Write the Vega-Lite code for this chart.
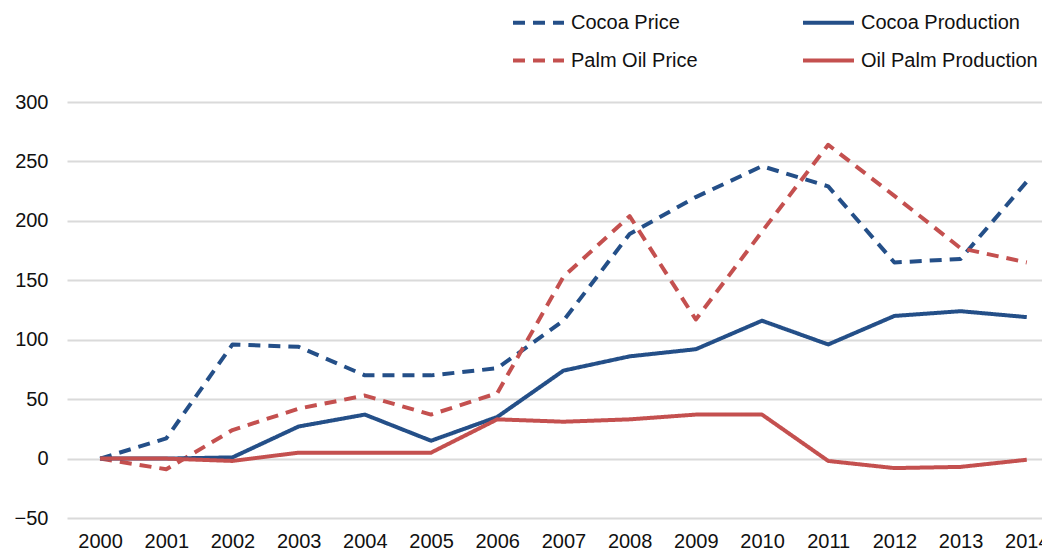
{
  "$schema": "https://vega.github.io/schema/vega-lite/v6.json",
  "autosize": {"type": "none"},
  "padding": {"left": 67, "top": 102, "right": 0, "bottom": 35},
  "width": 975,
  "height": 416,
  "background": "white",
  "config": {
    "view": {"stroke": null},
    "font": "Liberation Sans",
    "axis": {"labelFont": "Liberation Sans", "labelFontSize": 20, "labelColor": "#111111"},
    "legend": {"labelFont": "Liberation Sans", "labelFontSize": 20, "labelColor": "#111111"}
  },
  "data": {
    "values": [
      {"year": 2000, "series": "Cocoa Price", "value": 0},
      {"year": 2001, "series": "Cocoa Price", "value": 17},
      {"year": 2002, "series": "Cocoa Price", "value": 96},
      {"year": 2003, "series": "Cocoa Price", "value": 94},
      {"year": 2004, "series": "Cocoa Price", "value": 70},
      {"year": 2005, "series": "Cocoa Price", "value": 70},
      {"year": 2006, "series": "Cocoa Price", "value": 76},
      {"year": 2007, "series": "Cocoa Price", "value": 116},
      {"year": 2008, "series": "Cocoa Price", "value": 189},
      {"year": 2009, "series": "Cocoa Price", "value": 220},
      {"year": 2010, "series": "Cocoa Price", "value": 246},
      {"year": 2011, "series": "Cocoa Price", "value": 229},
      {"year": 2012, "series": "Cocoa Price", "value": 165},
      {"year": 2013, "series": "Cocoa Price", "value": 168},
      {"year": 2014, "series": "Cocoa Price", "value": 233},
      {"year": 2000, "series": "Palm Oil Price", "value": 0},
      {"year": 2001, "series": "Palm Oil Price", "value": -9},
      {"year": 2002, "series": "Palm Oil Price", "value": 24},
      {"year": 2003, "series": "Palm Oil Price", "value": 42},
      {"year": 2004, "series": "Palm Oil Price", "value": 53},
      {"year": 2005, "series": "Palm Oil Price", "value": 37},
      {"year": 2006, "series": "Palm Oil Price", "value": 55},
      {"year": 2007, "series": "Palm Oil Price", "value": 153},
      {"year": 2008, "series": "Palm Oil Price", "value": 204},
      {"year": 2009, "series": "Palm Oil Price", "value": 117},
      {"year": 2010, "series": "Palm Oil Price", "value": 191},
      {"year": 2011, "series": "Palm Oil Price", "value": 264},
      {"year": 2012, "series": "Palm Oil Price", "value": 221},
      {"year": 2013, "series": "Palm Oil Price", "value": 177},
      {"year": 2014, "series": "Palm Oil Price", "value": 165},
      {"year": 2000, "series": "Cocoa Production", "value": 0},
      {"year": 2001, "series": "Cocoa Production", "value": 0},
      {"year": 2002, "series": "Cocoa Production", "value": 1},
      {"year": 2003, "series": "Cocoa Production", "value": 27},
      {"year": 2004, "series": "Cocoa Production", "value": 37},
      {"year": 2005, "series": "Cocoa Production", "value": 15},
      {"year": 2006, "series": "Cocoa Production", "value": 35},
      {"year": 2007, "series": "Cocoa Production", "value": 74},
      {"year": 2008, "series": "Cocoa Production", "value": 86},
      {"year": 2009, "series": "Cocoa Production", "value": 92},
      {"year": 2010, "series": "Cocoa Production", "value": 116},
      {"year": 2011, "series": "Cocoa Production", "value": 96},
      {"year": 2012, "series": "Cocoa Production", "value": 120},
      {"year": 2013, "series": "Cocoa Production", "value": 124},
      {"year": 2014, "series": "Cocoa Production", "value": 119},
      {"year": 2000, "series": "Oil Palm Production", "value": 0},
      {"year": 2001, "series": "Oil Palm Production", "value": 0},
      {"year": 2002, "series": "Oil Palm Production", "value": -2},
      {"year": 2003, "series": "Oil Palm Production", "value": 5},
      {"year": 2004, "series": "Oil Palm Production", "value": 5},
      {"year": 2005, "series": "Oil Palm Production", "value": 5},
      {"year": 2006, "series": "Oil Palm Production", "value": 33},
      {"year": 2007, "series": "Oil Palm Production", "value": 31},
      {"year": 2008, "series": "Oil Palm Production", "value": 33},
      {"year": 2009, "series": "Oil Palm Production", "value": 37},
      {"year": 2010, "series": "Oil Palm Production", "value": 37},
      {"year": 2011, "series": "Oil Palm Production", "value": -2},
      {"year": 2012, "series": "Oil Palm Production", "value": -8},
      {"year": 2013, "series": "Oil Palm Production", "value": -7},
      {"year": 2014, "series": "Oil Palm Production", "value": -1}
    ]
  },
  "mark": {"type": "line", "strokeWidth": 4, "strokeCap": "butt", "strokeJoin": "round", "clip": false},
  "encoding": {
    "x": {
      "field": "year", "type": "quantitative",
      "scale": {"domain": [1999.5, 2014.23], "nice": false, "zero": false},
      "axis": {
        "title": null, "values": [2000,2001,2002,2003,2004,2005,2006,2007,2008,2009,2010,2011,2012,2013,2014],
        "format": "d", "grid": false, "domain": false, "ticks": false, "labelPadding": 13,
        "labelOverlap": false, "labelFlush": false
      }
    },
    "y": {
      "field": "value", "type": "quantitative",
      "scale": {"domain": [-50, 300], "nice": false},
      "axis": {
        "title": null, "values": [-50,0,50,100,150,200,250,300],
        "grid": true, "gridColor": "#dadada", "gridWidth": 2,
        "domain": false, "ticks": false, "labelPadding": 19
      }
    },
    "color": {
      "field": "series", "type": "nominal",
      "scale": {
        "domain": ["Cocoa Price", "Palm Oil Price", "Cocoa Production", "Oil Palm Production"],
        "range": ["#244f88", "#c4504f", "#244f88", "#c4504f"]
      },
      "legend": {
        "title": null, "orient": "none", "legendX": 444, "legendY": -107,
        "columns": 2, "columnPadding": 97, "rowPadding": -11,
        "symbolType": "stroke", "symbolSize": 2601, "symbolStrokeWidth": 4,
        "labelOffset": 5, "symbolOffset": 0, "labelLimit": 400
      }
    },
    "strokeDash": {
      "field": "series", "type": "nominal",
      "scale": {
        "domain": ["Cocoa Price", "Palm Oil Price", "Cocoa Production", "Oil Palm Production"],
        "range": [[12, 8], [12, 8], [1, 0], [1, 0]]
      },
      "legend": {
        "title": null, "orient": "none", "legendX": 444, "legendY": -107,
        "columns": 2, "columnPadding": 97, "rowPadding": -11,
        "symbolType": "stroke", "symbolSize": 2601, "symbolStrokeWidth": 4,
        "labelOffset": 5, "symbolOffset": 0, "labelLimit": 400
      }
    }
  }
}
